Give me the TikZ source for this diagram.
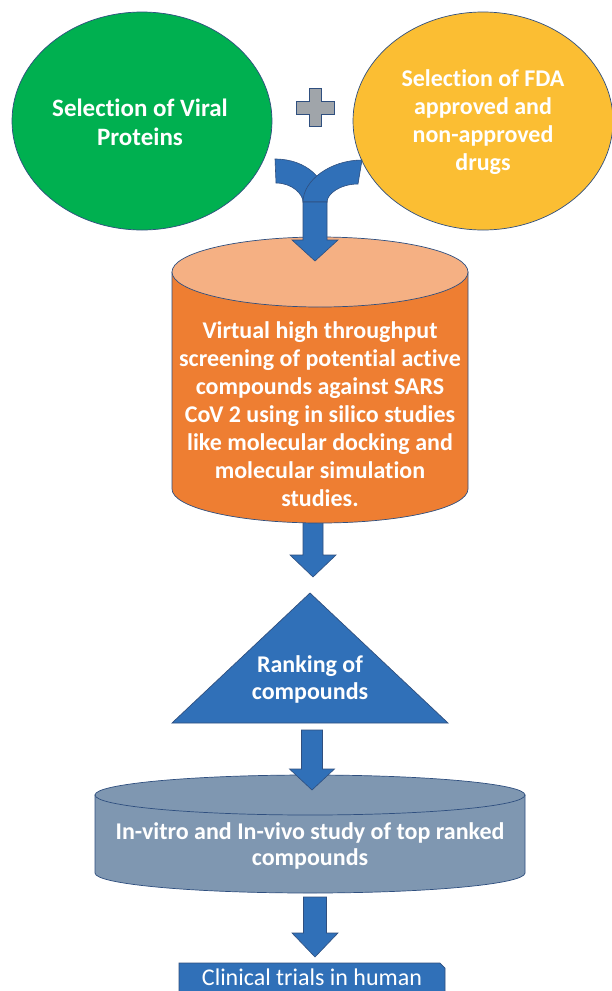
\documentclass[tikz,border=0pt]{standalone}
\usepackage{fontspec}
\setmainfont[Ligatures={NoCommon}]{Carlito}
\usetikzlibrary{calc}
\definecolor{vgreen}{HTML}{00B050}
\definecolor{vyellow}{HTML}{FBBE33}
\definecolor{vorange}{HTML}{EE7E32}
\definecolor{vorangetop}{HTML}{F5B083}
\definecolor{vblue}{HTML}{3070B8}
\definecolor{vslate}{HTML}{7F97B1}
\definecolor{vgrey}{HTML}{A0A5AA}
\definecolor{vline}{HTML}{2F4F7F}
\tikzset{
  shapeline/.style={draw=vline, line width=0.7pt},
  lbl/.style={text=white, font=\bfseries\fontsize{24}{28}\selectfont, align=center, inner sep=0pt},
  blk/.style={fill=vblue, draw=vline, line width=0.6pt, line join=miter},
}
\newcommand\blkarrow[6]{%
  \draw[blk] ({#1-#5},#2) -- ({#1-#5},#3) -- ({#1-#6},#3) -- (#1,#4) -- ({#1+#6},#3) -- ({#1+#5},#3) -- ({#1+#5},#2) -- cycle;}
\begin{document}
\begin{tikzpicture}[x=1pt,y=-1pt]
\useasboundingbox (0,0) rectangle (612,991);
\clip (0,0) rectangle (612,991);
\fill[white] (0,0) rectangle (612,991);
% top circles
\draw[shapeline, fill=vgreen] (142,121) ellipse[x radius=130pt, y radius=109pt];
\node[lbl, font=\bfseries\fontsize{25}{29}\selectfont] (green) at (140,122) {Selection of Viral\\Proteins};
\draw[shapeline, fill=vyellow] (483,121) ellipse[x radius=130pt, y radius=109pt];
\node[lbl] (yellow) at (483,122) {Selection of FDA\\approved and\\non-approved\\drugs};
% plus
\draw[fill=vgrey, draw=vline, line width=0.6pt] (309,88) -- (321,88) -- (321,101) -- (334,101) -- (334,114) -- (321,114) -- (321,126) -- (309,126) -- (309,114) -- (296,114) -- (296,101) -- (309,101) -- cycle;
% arrow from cylinder to triangle (behind cylinder)
\blkarrow{313}{505}{555}{577}{10}{23}
% big cylinder
\draw[shapeline, fill=vorange] (172,272) -- (172,489) arc[start angle=180, end angle=360, x radius=148pt, y radius=34pt] -- (468,272) -- cycle;
\draw[shapeline, fill=vorangetop] (320,272) ellipse[x radius=148pt, y radius=35pt];
\node[lbl] (screen) at (320,414) {Virtual high throughput\\screening of potential active\\compounds against SARS\\CoV 2 using in silico studies\\like molecular docking and\\molecular simulation\\studies.};
% merging Y arrow
\draw[blk] (275,159) .. controls (307,159) and (327,180) .. (327,202) -- (303,202) .. controls (303,194) and (292,183) .. (276,183) -- cycle;
\draw[blk] (362,160) .. controls (331,160) and (303,180) .. (303,202) -- (327,202) .. controls (327,194) and (340,184) .. (358,184) -- cycle;
\blkarrow{315}{202}{240}{261}{12}{23}
% triangle
\draw[shapeline, fill=vblue] (310,593) -- (448,723) -- (172,723) -- cycle;
\node[lbl, font=\bfseries\fontsize{24}{27}\selectfont] (rank) at (310,679) {Ranking of\\compounds};
% flat cylinder
\draw[shapeline, fill=vslate] (95,795) -- (95,873) arc[start angle=180, end angle=360, x radius=215pt, y radius=20pt] -- (525,795) -- cycle;
\draw[shapeline, fill=vslate] (310,795) ellipse[x radius=215pt, y radius=20pt];
\node[lbl, font=\bfseries\fontsize{24}{26}\selectfont] (vivo) at (310,846) {In-vitro and In-vivo study of top ranked\\compounds};
\blkarrow{312}{730}{769}{790}{10.5}{22.5}
\blkarrow{315}{897}{933}{957}{11.5}{23}
% clinical box
\draw[shapeline, fill=vblue] (179,963) -- (440,963) -- (445,968) -- (445,1000) -- (179,1000) -- cycle;
\node[text=white, font=\fontsize{24}{28}\selectfont, inner sep=0pt] (clin) at (312,977) {Clinical trials in human};
\end{tikzpicture}
\end{document}
